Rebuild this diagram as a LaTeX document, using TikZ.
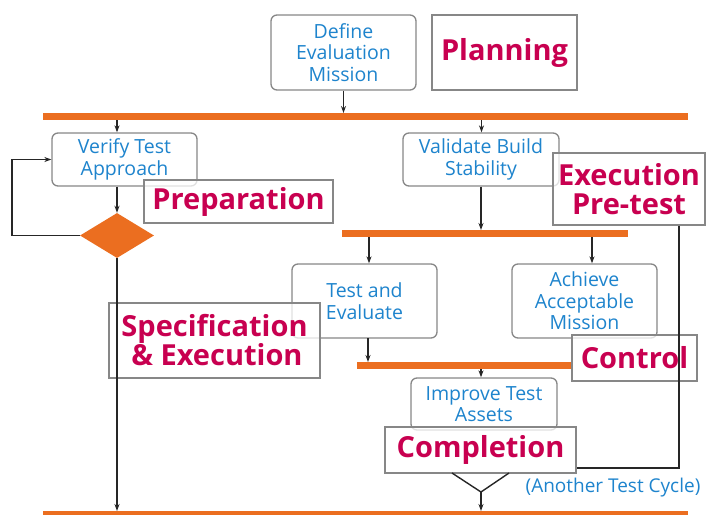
\documentclass[tikz,border=0pt]{standalone}
\usepackage{fontspec}
\setmainfont{Open Sans}
\usetikzlibrary{arrows.meta,shapes.geometric}
\definecolor{stepblue}{RGB}{30,132,205}
\definecolor{phasered}{RGB}{200,0,80}
\definecolor{barorange}{RGB}{235,110,32}
\definecolor{edgegray}{RGB}{135,135,135}
\begin{document}
\begin{tikzpicture}[x=1pt,y=-1pt,
    stepbox/.style={draw=edgegray,line width=1.3pt,rounded corners=6pt,fill=white,
      text=stepblue,align=center,font=\fontsize{19.5}{21.5}\selectfont,inner sep=0pt},
    phasebox/.style={draw=edgegray,line width=1.3pt,fill=white,fill opacity=0.75,text opacity=1,
      text=phasered,align=center,font=\fontsize{29}{29}\selectfont\bfseries,inner sep=0pt},
    syncbar/.style={draw=barorange,line width=6.5pt},
    flow/.style={draw=black!85,line width=1.4pt,-{Stealth[length=7pt,width=5pt]}},
    plain/.style={draw=black!85,line width=1.4pt}]
  \useasboundingbox (0,0) rectangle (709,514);

  % Drawing synchronisation bars
  \draw[syncbar] (43,116.5) -- (688,116.5);
  \draw[syncbar] (342,233.5) -- (628,233.5);
  \draw[syncbar] (357,365.5) -- (572,365.5);
  \draw[syncbar] (43,514.5) -- (688,514.5);

  % Marking activity boxes
  \node[stepbox,minimum width=145,minimum height=75] (define) at (343.5,52.5) {Define\\Evaluation\\Mission};
  \node[stepbox,minimum width=145,minimum height=53] (verify) at (124.5,159.5) {Verify Test\\Approach};
  \node[stepbox,minimum width=156,minimum height=53] (validate) at (481,159.5) {Validate Build\\Stability};
  \node[stepbox,minimum width=145,minimum height=74] (test) at (364.5,301) {Test and\\Evaluate};
  \node[stepbox,minimum width=145,minimum height=74] (achieve) at (584.5,301) {Achieve\\Acceptable\\Mission};
  \node[stepbox,minimum width=146,minimum height=52] (improve) at (484,404) {Improve Test\\Assets};

  % Marking decision diamond
  \node[diamond,fill=barorange,minimum width=74,minimum height=45,inner sep=0pt] (decide) at (117,235.5) {};

  % Marking phase labels
  \node[phasebox,minimum width=145,minimum height=75] (planning) at (504.5,52.5) {Planning};
  \node[phasebox,minimum width=189,minimum height=43] (prep) at (238.5,201.5) {Preparation};
  \node[phasebox,minimum width=152,minimum height=72] (exec) at (629,189) {Execution\\Pre-test};
  \node[phasebox,minimum width=211,minimum height=75] (spec) at (214.5,340.5) {Specification\\\,\& Execution};
  \node[phasebox,minimum width=125,minimum height=46] (control) at (634.5,358) {Control};
  \node[phasebox,minimum width=191,minimum height=46] (completion) at (480.5,450) {Completion};

  % Marking points on bars
  \coordinate (b1v) at (117,120);
  \coordinate (b1s) at (481.5,120);
  \coordinate (b2t) at (369,237);
  \coordinate (b2a) at (592,237);
  \coordinate (b3i) at (481,369);
  \coordinate (fork) at (481,492);
  \coordinate (loop) at (12,0);
  \coordinate (cyc) at (679,468);

  % Drawing flow arrows
  \draw[flow] (define.south) -- (343.5,113);
  \draw[flow] (b1v) -- (b1v |- verify.north);
  \draw[flow] (decide |- verify.south) -- (decide.north);
  \draw[flow] (decide.west) -| (loop |- verify.west) -- (verify.west);
  \draw[flow] (decide.south) -- (117,511);
  \draw[flow] (b1s) -- (b1s |- validate.north);
  \draw[flow] (validate.south) -- (481,230);
  \draw[flow] (b2t) -- (b2t |- test.north);
  \draw[flow] (b2a) -- (b2a |- achieve.north);
  \draw[flow] (368,338) -- (368,362);
  \draw[flow] (b3i) -- (b3i |- improve.north);

  % Drawing return path for another cycle
  \draw[plain] (cyc |- exec.south) -- (cyc) -- (cyc -| completion.east);
  \draw[plain] (452,473) -- (fork) -- (509,473);
  \draw[flow] (fork) -- (481,511);
  \node[text=stepblue,font=\fontsize{19}{21}\selectfont,inner sep=0pt] (another) at (613,488) {(Another Test Cycle)};
\end{tikzpicture}
\end{document}
